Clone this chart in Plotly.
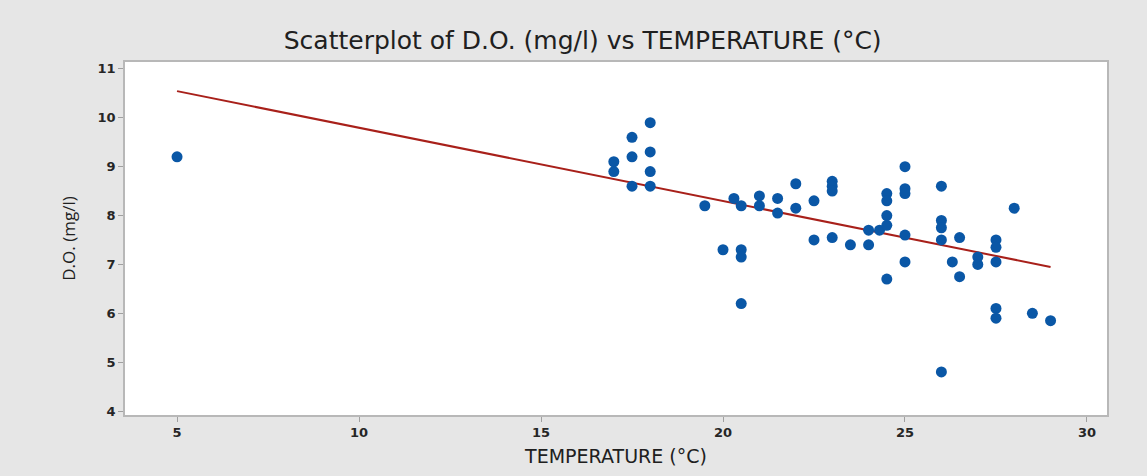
import numpy as np
import plotly.graph_objects as go

temperature = [5, 17, 17, 17.5, 17.5, 17.5, 18, 18, 18, 18,
               19.5, 20, 20.3, 20.5, 20.5, 20.5, 20.5, 21, 21, 21.5, 21.5,
               22, 22, 22.5, 22.5, 23, 23, 23, 23, 23.5, 24, 24, 24.3,
               24.5, 24.5, 24.5, 24.5, 24.5, 25, 25, 25, 25, 25,
               26, 26, 26, 26, 26, 26.3, 26.5, 26.5, 27, 27,
               27.5, 27.5, 27.5, 27.5, 27.5, 28, 28.5, 29]
do_mgl = [9.2, 9.1, 8.9, 9.6, 9.2, 8.6, 9.9, 9.3, 8.9, 8.6,
          8.2, 7.3, 8.35, 8.2, 7.3, 7.15, 6.2, 8.4, 8.2, 8.35, 8.05,
          8.65, 8.15, 8.3, 7.5, 8.7, 8.6, 8.5, 7.55, 7.4, 7.7, 7.4, 7.7,
          8.45, 8.3, 8.0, 7.8, 6.7, 9.0, 8.55, 8.45, 7.6, 7.05,
          8.6, 7.9, 7.75, 7.5, 4.8, 7.05, 7.55, 6.75, 7.15, 7.0,
          7.5, 7.35, 7.05, 6.1, 5.9, 8.15, 6.0, 5.85]

x_ticks = [5, 10, 15, 20, 25, 30]
y_ticks = [4, 5, 6, 7, 8, 9, 10, 11]

slope, intercept = np.polyfit(temperature, do_mgl, 1)
fit_x = [min(temperature), max(temperature)]
fit_y = [intercept + slope * v for v in fit_x]

fig = go.Figure()
fig.add_trace(go.Scatter(x=fit_x, y=fit_y, mode="lines",
                         line=dict(color="#a8201a", width=2), hoverinfo="skip"))
fig.add_trace(go.Scatter(x=temperature, y=do_mgl, mode="markers",
                         marker=dict(color="#0a57a6", size=11, line=dict(width=0))))

axis_common = dict(showgrid=False, zeroline=False, showline=True, linecolor="#b8b8b8",
                   linewidth=1.5, mirror=True, ticks="outside", ticklen=5,
                   tickcolor="#a0a0a0",
                   tickfont=dict(family="DejaVu Sans", size=13, color="#262626", weight=600))
fig.update_layout(
    width=1147, height=476,
    paper_bgcolor="#e6e6e6", plot_bgcolor="white",
    margin=dict(l=125, r=40, t=62, b=58),
    showlegend=False,
    title=dict(text="Scatterplot of D.O. (mg/l) vs TEMPERATURE (°C)",
               font=dict(family="DejaVu Sans", size=25, color="#202020"),
               x=0.508, xanchor="center", y=0.915, yanchor="middle"),
    xaxis=dict(range=[3.57, 30.55], tickvals=x_ticks,
               title=dict(text="TEMPERATURE (°C)", font=dict(family="DejaVu Sans", size=19, color="#202020"),
                          standoff=10),
               **axis_common),
    yaxis=dict(range=[3.92, 11.14], tickvals=y_ticks,
               title=dict(text="D.O. (mg/l)", font=dict(family="Open Sans", size=17, color="#202020"),
                          standoff=18),
               **axis_common),
)
fig.write_html("out.html", config={"displayModeBar": False},
               post_script="document.body.style.margin='0';document.body.style.background='#e6e6e6';")
